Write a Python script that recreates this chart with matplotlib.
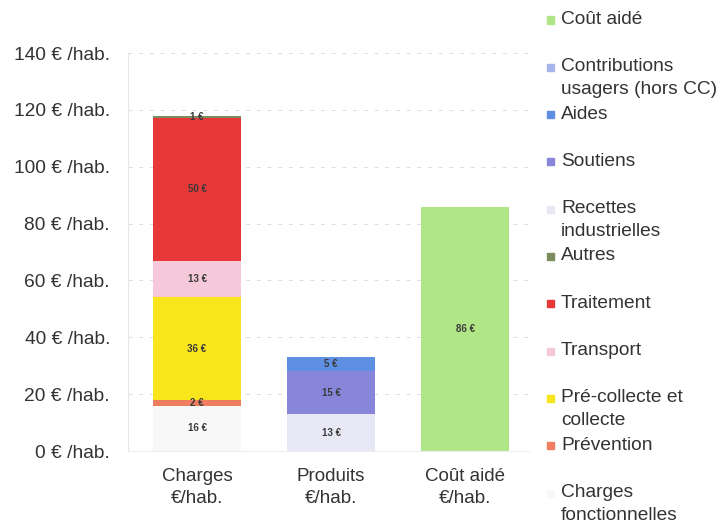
import matplotlib
matplotlib.use("Agg")
import matplotlib.pyplot as plt
import numpy as np

plt.rcParams['font.family'] = ['Liberation Sans', 'DejaVu Sans']

categories = ["Charges\n€/hab.", "Produits\n€/hab.", "Coût aidé\n€/hab."]

# stacked series, bottom to top
series_names = ["Charges\nfonctionnelles", "Prévention", "Pré-collecte et\ncollecte", "Transport",
                "Traitement", "Autres", "Recettes\nindustrielles", "Soutiens", "Aides",
                "Contributions\nusagers (hors CC)", "Coût aidé"]
charges_fonctionnelles = [16, 0, 0]
prevention = [2, 0, 0]
precollecte = [36, 0, 0]
transport = [13, 0, 0]
traitement = [50, 0, 0]
autres = [1, 0, 0]
recettes = [0, 13, 0]
soutiens = [0, 15, 0]
aides = [0, 5, 0]
contributions = [0, 0, 0]
cout_aide = [0, 0, 86]
series_values = [charges_fonctionnelles, prevention, precollecte, transport, traitement,
                 autres, recettes, soutiens, aides, contributions, cout_aide]
series_colors = ["#f8f8f8", "#ef7d5f", "#f8e51c", "#f6c9da", "#e63739", "#7d8c5e",
                 "#e7e7f6", "#8786da", "#5f8fe2", "#a8b5eb", "#b1e686"]

yticks = [0, 20, 40, 60, 80, 100, 120, 140]
ytick_labels = [f"{v} € /hab." for v in yticks]

fig = plt.figure(figsize=(7.25, 5.24), dpi=100)
W, H = 725, 524
ax = fig.add_axes([128 / W, 1 - 451 / H, 402 / W, (451 - 53) / H])

x = np.arange(len(categories))
bottom = np.zeros(len(categories))
for name, vals, col in zip(series_names, series_values, series_colors):
    vals = np.array(vals, dtype=float)
    ax.bar(x, vals, width=0.65, bottom=bottom, color=col, edgecolor='none', zorder=2)
    for xi, v, b in zip(x, vals, bottom):
        if v > 0:
            ax.text(xi, b + v / 2, f"{int(v)} €", ha='center', va='center',
                    fontsize=7, fontweight='bold', color='#3a3a3a', zorder=3)
    bottom += vals

ax.set_xlim(-0.515, 2.485)
ax.set_ylim(0, 140)
ax.set_yticks(yticks)
ax.set_yticklabels(ytick_labels, fontsize=13.8, color='#333333')
ax.set_xticks(x)
ax.set_xticklabels(categories, fontsize=13.5, color='#333333', linespacing=1.4)
ax.tick_params(axis='x', length=0, pad=12)
ax.tick_params(axis='y', length=0, pad=13)
for g in yticks[1:]:
    ax.axhline(g, color='#dcdcdc', lw=0.7, ls=(0, (4, 7)), zorder=1)
for s in ['top', 'right']:
    ax.spines[s].set_visible(False)
ax.spines['left'].set_color('#e6e6e6')
ax.spines['bottom'].set_color('#eeeeee')

# legend (top entry = last series)
y0 = 20
step = 47.3
for i, (name, col) in enumerate(zip(series_names[::-1], series_colors[::-1])):
    yc = y0 + i * step
    fig.patches.append(plt.Rectangle((547 / W, 1 - (yc + 3.5) / H), 7 / W, 7 / H,
                                     transform=fig.transFigure, color=col, figure=fig))
    fig.text(561 / W, 1 - (yc - 9) / H, name, fontsize=13.8, color='#333333',
             ha='left', va='top', linespacing=1.45)

fig.savefig("out.png", dpi=100)
